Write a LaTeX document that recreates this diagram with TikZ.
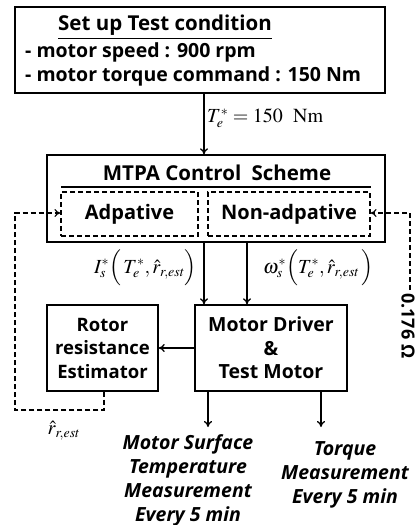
\documentclass[tikz,border=0pt]{standalone}
\usepackage[no-math]{fontspec}
\usepackage{mathptmx}
\setmainfont{Open Sans}
\DeclareMathSizes{20}{20}{14}{10}
\usetikzlibrary{arrows.meta}
\tikzset{
  box/.style={draw, line width=1.4pt, inner sep=0pt},
  dbox/.style={draw, dash pattern=on 5pt off 3pt, line width=1.1pt, inner sep=0pt},
  txt/.style={font=\fontsize{19.5}{23.5}\selectfont\bfseries, align=center, inner sep=0pt},
  itxt/.style={font=\fontsize{19.5}{24}\selectfont\bfseries\itshape, align=center, inner sep=0pt},
  mlab/.style={font=\fontsize{20}{22}\selectfont, inner sep=0pt},
  arr/.style={-{To[length=6pt,width=8pt]}, line width=1.3pt},
  darr/.style={-{To[length=6pt,width=8pt]}, dash pattern=on 5pt off 3pt, line width=1.1pt},
}
\begin{document}
\begin{tikzpicture}[x=1pt,y=-1pt]
\useasboundingbox (0,0) rectangle (417,525);
% top box
\node[box, minimum width=370pt, minimum height=86pt] (top) at (200,50) {};
\node[txt, font=\fontsize{20.5}{24}\selectfont\bfseries] (t1) at (165,27) {\underline{Set up Test condition}};
\node[txt, anchor=west] (t2) at (25,52) {- motor speed : 900 rpm};
\node[txt, anchor=west] (t3) at (25,76) {- motor torque command : 150 Nm};
% MTPA box
\node[box, minimum width=338pt, minimum height=87pt] (mtpa) at (216,198.5) {};
\node[txt, font=\fontsize{20.5}{24}\selectfont\bfseries] (mt) at (217,173) {MTPA Control\enspace Scheme};
\coordinate (ul1) at (61,187);
\coordinate (ul2) at (371,187);
\draw[line width=1.2pt] (ul1) -- (ul2);
\node[dbox, minimum width=137pt, minimum height=44pt] (ad) at (129.5,214) {};
\node[txt, font=\fontsize{20}{24}\selectfont\bfseries] at (ad) {Adpative};
\node[dbox, minimum width=162pt, minimum height=44pt] (nad) at (289,214) {};
\node[txt, font=\fontsize{20}{24}\selectfont\bfseries] at (nad) {Non-adpative};
% arrow top -> mtpa
\draw[arr] (top.south -| 204,0) -- (mtpa.north -| 204,0);
\node[mlab, anchor=west] (tl) at (207,118) {$T_e^{\ast}=150\ \ \mathrm{Nm}$};
% lower boxes
\node[box, minimum width=111pt, minimum height=86pt] (rot) at (102.5,348) {};
\node[txt, font=\fontsize{18.5}{23.5}\selectfont\bfseries] at (rot) {Rotor\\resistance\\Estimator};
\node[box, minimum width=152pt, minimum height=86pt] (mot) at (271,348) {};
\node[txt] at (mot) {Motor Driver\\\&\\Test Motor};
% arrows mtpa -> motor
\draw[arr] (mtpa.south -| 204,0) -- (mot.north -| 204,0);
\draw[arr] (mtpa.south -| 247,0) -- (mot.north -| 247,0);
\node[mlab, anchor=east] (il) at (197,268) {$I_s^{\ast}\Bigl(\,T_e^{\ast},\hat{r}_{r,est}\Bigr)$};
\node[mlab, anchor=west] (wl) at (263,268) {$\omega_s^{\ast}\Bigl(T_e^{\ast},\hat{r}_{r,est}\,\Bigr)$};
% motor -> rotor
\draw[arr] (mot.west) -- (rot.east);
% outputs
\coordinate (o1) at (208,427);
\coordinate (o2) at (321,427);
\draw[arr] (mot.south -| o1) -- (o1);
\draw[arr] (mot.south -| o2) -- (o2);
\node[itxt, anchor=north] (m1) at (188,434) {Motor Surface\\Temperature\\Measurement\\Every 5 min};
\node[itxt, anchor=north] (m2) at (345,441) {Torque\\Measurement\\Every 5 min};
% left dashed feedback
\coordinate (l1) at (104,410);
\coordinate (l2) at (15,410);
\coordinate (l3) at (15,213);
\draw[darr] (rot.south -| l1) -- (l1) -- (l2) -- (l3) -- (ad.west |- l3);
\node[mlab] (rl) at (64,431) {$\hat{r}_{r,est}$};
% right dashed
\coordinate (r1) at (410,290);
\coordinate (r2) at (410,213);
\draw[darr] (r1) -- (r2) -- (nad.east |- r2);
\node[txt, font=\fontsize{18}{22}\selectfont\bfseries, rotate=-90, anchor=west] (om) at (408,293) {0.176 Ω};
\end{tikzpicture}
\end{document}
